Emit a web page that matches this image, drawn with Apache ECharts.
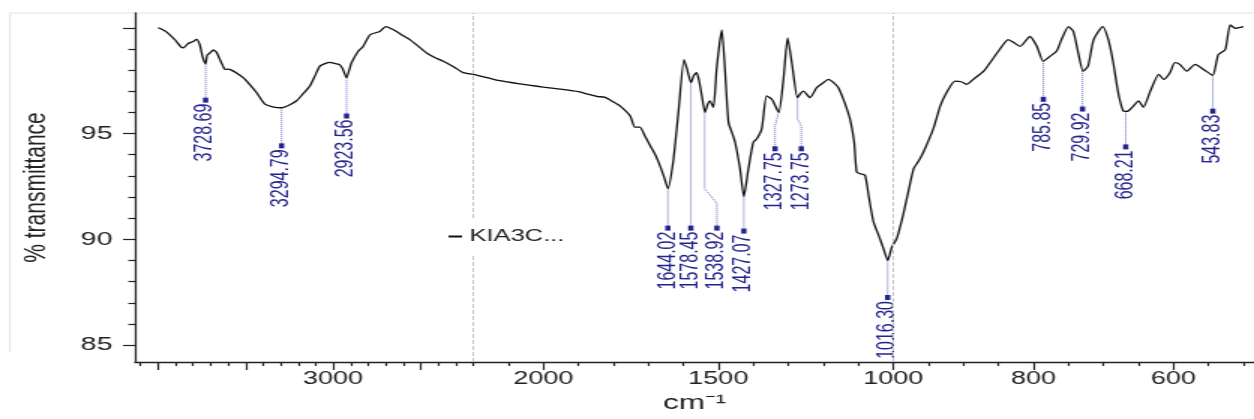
<!DOCTYPE html>
<html><head><meta charset="utf-8">
<script src="https://cdn.jsdelivr.net/npm/echarts@6/dist/echarts.min.js"></script>
<style>
html,body{margin:0;padding:0;background:#fff;overflow:hidden;width:1254px;height:419px}
#chart{width:836px;height:419px;transform:scaleX(1.5);transform-origin:0 0;}
</style>
</head><body><div id="chart"></div>
<script>
// ---------- data ----------
const seriesName = 'KIA3C...';
const wavenumber = [4000,3960,3933,3900,3870,3856,3830,3800,3781,3762,3745,3729,3720,3705,3685,3667,3647,3630,3619,3600,3581,3550,3514,3480,3438,3390,3340,3295,3250,3209,3170,3133,3100,3076,3040,3019,2985,2962,2945,2924,2905,2895,2857,2829,2790,2733,2700,2680,2638,2600,2562,2510,2466,2420,2371,2310,2257,2200,2124,2067,2000,1952,1900,1870,1845,1825,1800,1781,1752,1738,1724,1710,1695,1680,1667,1655,1644,1629,1614,1598,1590,1578,1570,1562,1555,1547,1538,1530,1524,1514,1505,1497,1490,1481,1471,1460,1452,1438,1427,1414,1400,1390,1376,1362,1347,1333,1327,1314,1302,1290,1274,1265,1257,1238,1219,1200,1186,1170,1157,1140,1124,1112,1105,1095,1081,1070,1057,1040,1029,1016,1005,995,986,979,971,964,957,943,933,924,912,903,895,886,871,862,850,836,828,819,805,795,786,776,767,760,750,743,736,729,722,714,701,693,686,679,672,668,664,657,650,643,633,621,614,605,598,591,581,569,557,544,536,526,519,512,500];
const transmittance = [100.0,99.85,99.67,99.4,99.1,99.05,99.25,99.35,99.45,99.2,98.6,98.3,98.7,98.8,98.95,98.85,98.5,98.2,98.03,98.05,98.0,97.85,97.64,97.35,96.94,96.39,96.25,96.22,96.35,96.55,96.9,97.25,97.8,98.19,98.33,98.37,98.3,98.25,98.05,97.64,98.1,98.35,98.89,99.12,99.67,99.83,100.06,100.0,99.83,99.62,99.44,99.1,98.81,98.6,98.42,98.15,97.88,97.8,97.5,97.35,97.2,97.1,96.98,96.85,96.75,96.72,96.5,96.31,95.84,95.3,95.3,94.9,94.44,94.0,93.5,92.95,92.4,93.66,96.0,98.5,98.1,97.41,97.75,97.88,97.5,96.78,96.0,96.4,96.55,96.24,98.03,99.2,99.9,98.03,95.53,95.0,94.59,93.34,92.02,93.34,94.59,94.75,95.22,96.78,96.62,96.16,96.0,97.56,99.52,98.35,96.7,96.9,97.01,96.7,97.17,97.4,97.56,97.4,97.17,96.5,95.69,94.6,93.19,93.1,93.03,92.0,90.84,90.1,89.6,89.0,89.6,90.06,91.16,92.2,93.34,93.7,94.13,95.22,96.31,96.94,97.48,97.45,97.33,97.56,97.95,98.35,98.89,99.44,99.3,99.12,99.59,99.12,98.42,98.66,98.89,99.44,100.06,99.83,98.81,97.95,98.19,99.44,100.06,99.44,98.35,96.94,96.08,96.05,96.08,96.31,96.55,96.24,97.01,97.8,97.56,97.88,98.35,98.27,97.95,98.27,98.03,97.75,98.73,98.97,100.14,99.98,100.06];
const peakWavenumber = [3728.69,3294.79,2923.56,1644.02,1578.45,1538.92,1427.07,1327.75,1273.75,1016.30,785.85,729.92,668.21,543.83];
const peakTransmittance = [98.3,96.22,97.64,92.4,97.41,96.0,92.02,96.0,96.7,89.0,98.42,97.95,96.05,97.75];
const xLabelValues = [3000,2000,1500,1000,800,600];
const xMajorTickValues = [4000,3500,3000,2500,2000,1500,1000,800,600];
const yLabelValues = [85,90,95];
const yMajorTickValues = [85,90,95,100];
const scaleBreaks = [2200,1000];

// ---------- layout (annotation placement) ----------
const labelAnchorWn = [3728.69,3294.79,2923.56,1644.02,1578.45,1504,1427.07,1338,1263,1016.30,785.85,729.92,668.21,543.83];
const labelTopT = [96.58,94.42,95.83,90.53,90.53,90.53,90.39,94.28,94.28,87.25,96.62,96.16,94.37,96.06];
const bendStartT = [null,null,null,null,null,92.4,null,96.0,95.69,null,null,null,null,null];
const bendEndT = [null,null,null,null,null,91.7,null,95.36,95.36,null,null,null,null,null];

// piecewise display scale (compressed above 2200, expanded below 1000)
function toU(w){ if(w>=2200) return -(w-2200)*0.5; if(w>=1000) return 2200-w; return 1200+(1000-w)*2; }
function toW(u){ if(u<=0) return 2200-2*u; if(u<=1200) return 2200-u; return 1000-(u-1200)/2; }

const xMinor=[];
for(let w=4100; w>=2200; w-=100) xMinor.push(w);
for(let w=2100; w>=1000; w-=100) xMinor.push(w);
for(let w=950; w>=500; w-=50) xMinor.push(w);
const xMinorTicks = xMinor.filter(w=>xMajorTickValues.indexOf(w)<0).map(toU);
const yMinorTicks=[]; for(let t=86;t<100;t++){ if(yMajorTickValues.indexOf(t)<0) yMinorTicks.push(t); }

const FONT='Liberation Sans';
const AX='#222';
const navy='#23238c';
const xMin=toU(4132), xMax=toU(485);

const mainData = wavenumber.map((w,i)=>[toU(w), transmittance[i]]);

const annSeries = peakWavenumber.map((pw,i)=>{
  const uP=toU(pw), uL=toU(labelAnchorWn[i]);
  const pts=[[uP,peakTransmittance[i]]];
  if(bendStartT[i]!=null){ pts.push([uP,bendStartT[i]]); pts.push([uL,bendEndT[i]]); }
  pts.push([uL,labelTopT[i]]);
  const data = pts.map((p,k)=> k<pts.length-1 ? {value:p, symbol:'none'} :
     {value:p, symbol:'rect', symbolSize:[3.5,5],
      label:{show:true, formatter: pw.toFixed(2), position:'bottom', distance:1, rotate:90,
             align:'right', verticalAlign:'middle', color:navy, fontSize:16, fontFamily:FONT}});
  return {type:'line', name:'peak'+i, data, xAxisIndex:0, yAxisIndex:0, silent:true, z:3,
    lineStyle:{type:'dotted', width:1, color:'#6a6ac6'}, itemStyle:{color:navy},
    emphasis:{disabled:true}};
});

const chart = echarts.init(document.getElementById('chart'), null, {renderer:'canvas'});
chart.setOption({
  animation:false,
  backgroundColor:'#fff',
  grid:{left:90, right:0, top:13, bottom:54, containLabel:false},
  legend:{data:[{name:seriesName, icon:'rect'}], left:297, top:218, itemWidth:9, itemHeight:2,
    padding:[10,4,10,2], backgroundColor:'#fff', z:10,
    textStyle:{fontFamily:FONT, fontSize:17, color:'#222'}, itemStyle:{color:'#111'}, selectedMode:false},
  graphic:[
    {type:'line', shape:{x1:6.7,y1:13,x2:836,y2:13}, style:{stroke:'#e2e2e2', lineWidth:1}, silent:true},
    {type:'line', shape:{x1:6.7,y1:13,x2:6.7,y2:352}, style:{stroke:'#e2e2e2', lineWidth:1}, silent:true}
  ],
  xAxis:[
    {type:'value', min:xMin, max:xMax, position:'bottom',
     name:'cm⁻¹', nameLocation:'middle', nameGap:31,
     nameTextStyle:{fontFamily:FONT, fontSize:21, color:'#222'},
     axisLine:{onZero:false, lineStyle:{color:AX, width:1.3}},
     axisTick:{customValues:xMajorTickValues.map(toU), length:8, lineStyle:{color:AX, width:1.2}},
     axisLabel:{customValues:xLabelValues.map(toU), margin:8, fontFamily:FONT, fontSize:18, color:'#222',
       formatter:(u)=>String(Math.round(toW(u)))},
     splitLine:{show:false}},
    {type:'value', min:xMin, max:xMax, position:'bottom',
     axisLine:{show:false, onZero:false},
     axisTick:{customValues:xMinorTicks, length:4, lineStyle:{color:AX, width:1.2}},
     axisLabel:{show:false}, splitLine:{show:false}}
  ],
  yAxis:[
    {type:'value', min:84.2, max:100.7, position:'left',
     name:'% transmittance', nameLocation:'middle', nameGap:55,
     nameTextStyle:{fontFamily:FONT, fontSize:21, color:'#222'},
     axisLine:{show:true, onZero:false, lineStyle:{color:AX, width:1.3}},
     axisTick:{customValues:yMajorTickValues, length:8, lineStyle:{color:AX, width:1.2}},
     axisLabel:{customValues:yLabelValues, margin:15, fontFamily:FONT, fontSize:19, color:'#222'},
     splitLine:{show:false}},
    {type:'value', min:84.2, max:100.7, position:'left', offset:0,
     axisLine:{show:false, onZero:false},
     axisTick:{customValues:yMinorTicks, length:4.5, lineStyle:{color:AX, width:1.2}},
     axisLabel:{show:false}, splitLine:{show:false}}
  ],
  series:[
    {type:'line', name:seriesName, data:mainData, xAxisIndex:0, yAxisIndex:0, symbol:'none',
     smooth:0.2, lineStyle:{color:'#111', width:1.3}, itemStyle:{color:'#111'}, z:4, silent:true,
     markLine:{silent:true, symbol:'none', label:{show:false},
       lineStyle:{type:'dashed', color:'#c4c4c4', width:1},
       data:scaleBreaks.map(w=>({xAxis:toU(w)}))}}
  ].concat(annSeries)
});
</script></body></html>
